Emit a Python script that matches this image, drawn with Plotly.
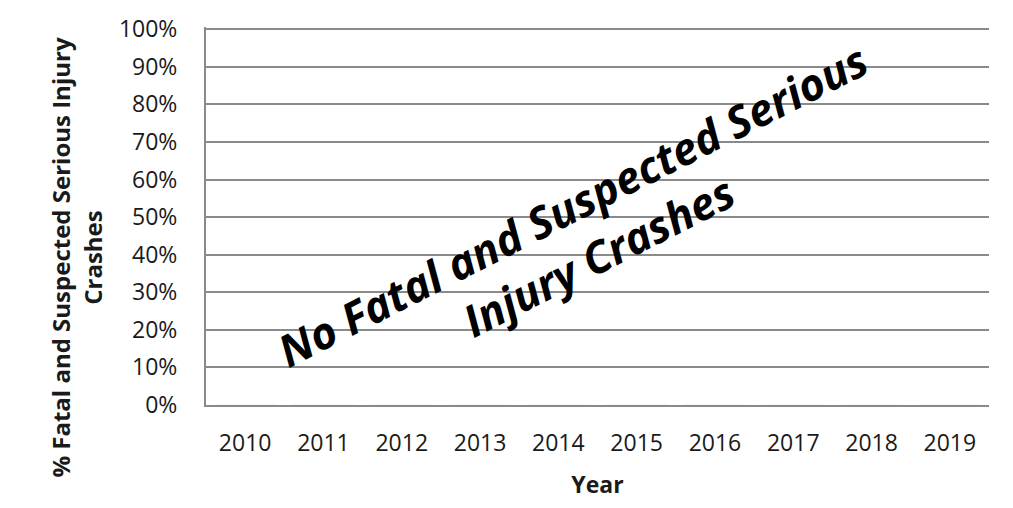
import plotly.graph_objects as go

# Crash share by year (all zero: no fatal or suspected serious injury crashes)
years = ["2010", "2011", "2012", "2013", "2014", "2015", "2016", "2017", "2018", "2019"]
pct_fatal_serious = [0, 0, 0, 0, 0, 0, 0, 0, 0, 0]
y_ticks = [0, 0.1, 0.2, 0.3, 0.4, 0.5, 0.6, 0.7, 0.8, 0.9, 1.0]
y_tick_labels = ["0%", "10%", "20%", "30%", "40%", "50%", "60%", "70%", "80%", "90%", "100%"]

FONT = "Open Sans, sans-serif"
GRID = "#8a8a8a"
INK = "#1a1a1a"

fig = go.Figure()
fig.add_trace(go.Bar(x=years, y=pct_fatal_serious, marker_color="#4f81bd", showlegend=False))

fig.update_layout(
    width=1013,
    height=508,
    margin=dict(l=206, r=24, t=16, b=103),
    paper_bgcolor="white",
    plot_bgcolor="white",
    font=dict(family=FONT, size=23, color=INK),
    xaxis=dict(
        type="category",
        showgrid=False,
        showline=True,
        linecolor=GRID,
        linewidth=2,
        ticks="",
        ticklabelstandoff=16,
        tickfont=dict(size=23),
        title=dict(text="<b>Year</b>", font=dict(size=23), standoff=20),
    ),
    yaxis=dict(
        # small headroom so the 100% gridline is drawn inside the plot area
        range=[0, 1.006],
        tickvals=y_ticks,
        ticktext=y_tick_labels,
        showgrid=True,
        gridcolor=GRID,
        gridwidth=2,
        showline=True,
        linecolor=GRID,
        linewidth=2,
        zeroline=False,
        ticks="",
        ticklabelstandoff=22,
        tickfont=dict(size=23),
    ),
    annotations=[
        dict(
            text="<b>% Fatal and Suspected Serious Injury<br>Crashes</b>",
            xref="paper", yref="paper",
            x=(76 - 206) / 783, y=0.39,
            xanchor="center", yanchor="middle",
            textangle=-90,
            showarrow=False,
            font=dict(family=FONT, size=24, color=INK),
        ),
        dict(
            text="<b><i>No Fatal and Suspected Serious<br>Injury Crashes</i></b>",
            xref="paper", yref="paper",
            x=(585 - 206) / 784, y=(405 - 225) / 389,
            xanchor="center", yanchor="middle",
            textangle=-27,
            showarrow=False,
            font=dict(family=FONT, size=44, color="black"),
        ),
    ],
)

fig.write_html("out.html")
